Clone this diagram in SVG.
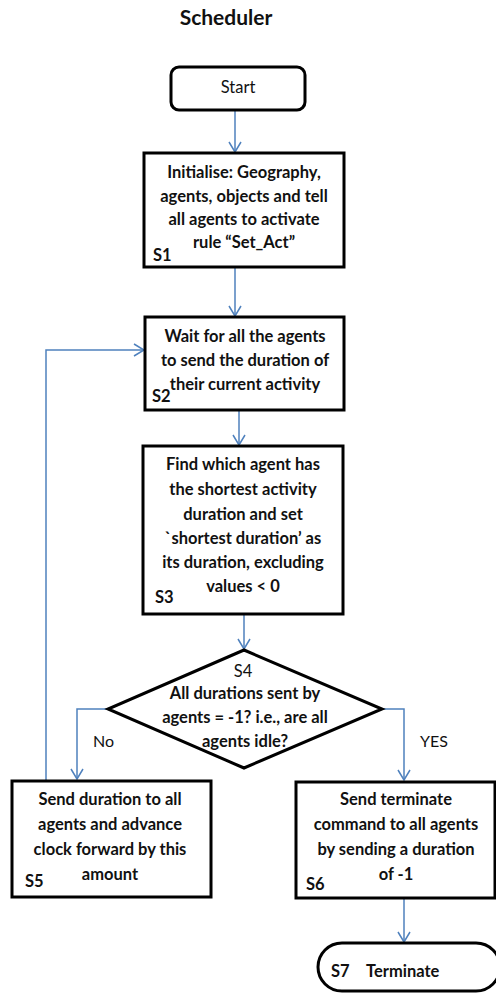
<svg xmlns="http://www.w3.org/2000/svg" width="496" height="994" viewBox="0 0 496 994">
<style>
.box{fill:#fff;stroke:#000;stroke-width:3}
.t{font-family:Lato,"Liberation Sans",sans-serif;font-weight:bold;font-size:16.5px;fill:#111}
.c{text-anchor:middle}
.lbl{font-family:Lato,"Liberation Sans",sans-serif;font-size:16px;fill:#111}
.con{fill:none;stroke:#4f81bd;stroke-width:1.5;marker-end:url(#ah)}
</style>
<defs>
<marker id="ah" markerWidth="14" markerHeight="14" refX="11" refY="7" orient="auto" markerUnits="userSpaceOnUse">
<path d="M1,1 L11,7 L1,13" fill="none" stroke="#4f81bd" stroke-width="1.5"/>
</marker>
</defs>
<rect width="496" height="994" fill="#fff"/>
<text x="226" y="25" class="t c" style="font-size:21px">Scheduler</text>
<g id="connectors">
<path class="con" d="M235,110 V152"/>
<path class="con" d="M235,267 V316"/>
<path class="con" d="M239,410 V445"/>
<path class="con" d="M244,614 V649"/>
<path class="con" d="M108,709 H77 V779"/>
<path class="con" d="M382,709 H404 V780"/>
<path class="con" d="M46,780 V350 H144"/>
<path class="con" d="M404,898 V942"/>
<text x="93" y="747" class="lbl">No</text>
<text x="420" y="747" class="lbl">YES</text>
</g>
<g id="start">
<rect class="box" x="171" y="67" width="134" height="43" rx="8"/>
<text x="238" y="93" class="t c" style="font-weight:normal">Start</text>
</g>
<g id="s1">
<rect class="box" x="144" y="153" width="200" height="114"/>
<text class="t c"><tspan x="244" y="178">Initialise: Geography,</tspan><tspan x="244" y="202">agents, objects and tell</tspan><tspan x="244" y="225">all agents to activate</tspan><tspan x="244" y="248">rule “Set_Act”</tspan></text>
<text x="153" y="261" class="t">S1</text>
</g>
<g id="s2">
<rect class="box" x="145" y="317" width="199" height="93"/>
<text class="t c"><tspan x="245" y="342">Wait for all the agents</tspan><tspan x="245" y="366">to send the duration of</tspan><tspan x="245" y="390">their current activity</tspan></text>
<text x="152" y="402" class="t">S2</text>
</g>
<g id="s3">
<rect class="box" x="143" y="446" width="200" height="168"/>
<text class="t c"><tspan x="243" y="470">Find which agent has</tspan><tspan x="243" y="495">the shortest activity</tspan><tspan x="243" y="520">duration and set</tspan><tspan x="243" y="544">`shortest duration’ as</tspan><tspan x="243" y="568">its duration, excluding</tspan><tspan x="243" y="592">values &lt; 0</tspan></text>
<text x="155" y="603" class="t">S3</text>
</g>
<g id="s4">
<polygon class="box" points="244,650 382,709 244,768 108,709"/>
<text x="243" y="677" class="t c" style="font-weight:normal">S4</text>
<text class="t c"><tspan x="245" y="699">All durations sent by</tspan><tspan x="245" y="723">agents = -1? i.e., are all</tspan><tspan x="245" y="747">agents idle?</tspan></text>
</g>
<g id="s5">
<rect class="box" x="12" y="781" width="199" height="116"/>
<text class="t c"><tspan x="110" y="805">Send duration to all</tspan><tspan x="110" y="830">agents and advance</tspan><tspan x="110" y="855">clock forward by this</tspan><tspan x="110" y="880">amount</tspan></text>
<text x="25" y="887" class="t">S5</text>
</g>
<g id="s6">
<rect class="box" x="296" y="782" width="199" height="116"/>
<text class="t c"><tspan x="396" y="805">Send terminate</tspan><tspan x="396" y="830">command to all agents</tspan><tspan x="396" y="855">by sending a duration</tspan><tspan x="396" y="880">of -1</tspan></text>
<text x="306" y="890" class="t">S6</text>
</g>
<g id="s7">
<rect class="box" x="318" y="943" width="182" height="48" rx="24"/>
<text x="331" y="977" class="t">S7</text>
<text x="366" y="977" class="t">Terminate</text>
</g>
</svg>
